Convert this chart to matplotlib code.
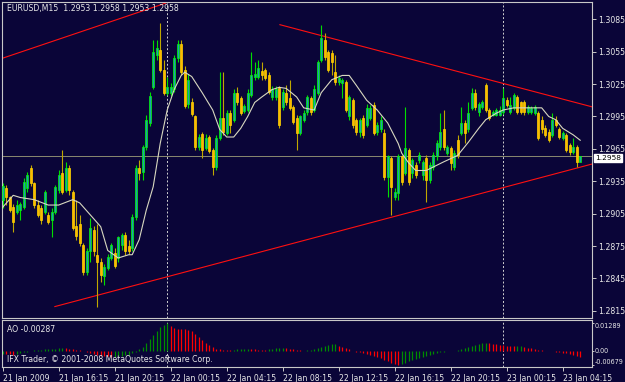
import matplotlib
matplotlib.use('Agg')
import matplotlib.pyplot as plt

# EURUSD M15 bars, 21 Jan 2009 12:15 onwards (one value per 15-minute bar)
opens = [1.2918, 1.2929, 1.2920, 1.2911, 1.2907, 1.2908, 1.2911, 1.2929, 1.2947, 1.2933,
         1.2913, 1.2910, 1.2907, 1.2904, 1.2899, 1.2907, 1.2927, 1.2943, 1.2927, 1.2947,
         1.2925, 1.2894, 1.2895, 1.2876, 1.2851, 1.2870, 1.2890, 1.2867, 1.2860, 1.2847,
         1.2855, 1.2864, 1.2869, 1.2864, 1.2876, 1.2885, 1.2875, 1.2873, 1.2902, 1.2947,
         1.2944, 1.2967, 1.2989, 1.3022, 1.3052, 1.3057, 1.3038, 1.3017, 1.3017, 1.3020,
         1.3049, 1.3062, 1.3038, 1.3007, 1.3008, 1.2995, 1.2967, 1.2979, 1.2966, 1.2976,
         1.2964, 1.2948, 1.2975, 1.2994, 1.2980, 1.2998, 1.2992, 1.3017, 1.3012, 1.3000,
         1.3001, 1.3015, 1.3032, 1.3032, 1.3037, 1.3038, 1.3033, 1.3013, 1.3013, 1.3021,
         1.3004, 1.3017, 1.3012, 1.3004, 1.2994, 1.2980, 1.2992, 1.2999, 1.3012, 1.3001,
         1.3017, 1.3047, 1.3066, 1.3055, 1.3054, 1.3036, 1.3027, 1.3026, 1.3027, 1.2995,
         1.3010, 1.2992, 1.2981, 1.2994, 1.2987, 1.2994, 1.3006, 1.2981, 1.2983, 1.2980,
         1.2939, 1.2957, 1.2920, 1.2924, 1.2958, 1.2943, 1.2964, 1.2943, 1.2950, 1.2955,
         1.2941, 1.2957, 1.2936, 1.2948, 1.2958, 1.2967, 1.2983, 1.2961, 1.2966, 1.2948,
         1.2973, 1.2980, 1.2989, 1.2983, 1.3003, 1.3017, 1.2999, 1.3004, 1.3024, 1.3001,
         1.2996, 1.2996, 1.2996, 1.2999, 1.3010, 1.2999, 1.3003, 1.3013, 1.3008, 1.3008,
         1.2999, 1.2999, 1.2998, 1.2998, 1.2992, 1.2984, 1.2981, 1.2978, 1.2992, 1.2983,
         1.2975, 1.2978, 1.2969, 1.2962, 1.2967, 1.2953]
highs = [1.2933, 1.2932, 1.2921, 1.2914, 1.2918, 1.2916, 1.2938, 1.2944, 1.2950, 1.2934,
         1.2918, 1.2913, 1.2927, 1.2907, 1.2910, 1.2932, 1.2945, 1.2964, 1.2953, 1.2950,
         1.2927, 1.2918, 1.2904, 1.2878, 1.2873, 1.2901, 1.2894, 1.2895, 1.2864, 1.2858,
         1.2868, 1.2878, 1.2873, 1.2884, 1.2887, 1.2888, 1.2881, 1.2905, 1.2950, 1.2955,
         1.2969, 1.2996, 1.3018, 1.3066, 1.3066, 1.3082, 1.3047, 1.3032, 1.3026, 1.3052,
         1.3066, 1.3066, 1.3042, 1.3034, 1.3012, 1.2996, 1.2979, 1.2981, 1.2979, 1.2978,
         1.2966, 1.2978, 1.3036, 1.3036, 1.3001, 1.3001, 1.3020, 1.3022, 1.3014, 1.3007,
         1.3020, 1.3055, 1.3045, 1.3047, 1.3045, 1.3040, 1.3036, 1.3023, 1.3023, 1.3023,
         1.3020, 1.3024, 1.3029, 1.3006, 1.2996, 1.2996, 1.3001, 1.3015, 1.3014, 1.3024,
         1.3047, 1.3080, 1.3072, 1.3057, 1.3057, 1.3052, 1.3033, 1.3031, 1.3029, 1.3015,
         1.3012, 1.2994, 1.2994, 1.2996, 1.3007, 1.3006, 1.3008, 1.2990, 1.2995, 1.2983,
         1.2959, 1.2958, 1.2929, 1.2960, 1.2959, 1.3004, 1.2966, 1.2957, 1.2953, 1.2962,
         1.2955, 1.2959, 1.2953, 1.2962, 1.2973, 1.2998, 1.3001, 1.2969, 1.2968, 1.2964,
         1.2978, 1.3004, 1.2992, 1.3008, 1.3021, 1.3020, 1.3008, 1.3010, 1.3026, 1.3003,
         1.3001, 1.3003, 1.3005, 1.3021, 1.3013, 1.3013, 1.3017, 1.3015, 1.3009, 1.3010,
         1.3006, 1.3005, 1.3006, 1.3000, 1.2995, 1.2987, 1.2983, 1.2998, 1.2995, 1.2985,
         1.2982, 1.2980, 1.2970, 1.2975, 1.2969, 1.2958]
lows = [1.2910, 1.2913, 1.2907, 1.2888, 1.2905, 1.2899, 1.2909, 1.2925, 1.2931, 1.2910,
        1.2902, 1.2895, 1.2905, 1.2895, 1.2883, 1.2905, 1.2924, 1.2923, 1.2925, 1.2922,
        1.2890, 1.2881, 1.2875, 1.2848, 1.2848, 1.2860, 1.2866, 1.2819, 1.2842, 1.2839,
        1.2853, 1.2862, 1.2855, 1.2860, 1.2871, 1.2867, 1.2868, 1.2870, 1.2899, 1.2936,
        1.2936, 1.2964, 1.2986, 1.3020, 1.3047, 1.3036, 1.3015, 1.3015, 1.3014, 1.3018,
        1.3045, 1.3033, 1.3003, 1.3003, 1.2995, 1.2964, 1.2964, 1.2957, 1.2964, 1.2961,
        1.2941, 1.2945, 1.2973, 1.2978, 1.2978, 1.2980, 1.2990, 1.3006, 1.2996, 1.2998,
        1.2999, 1.3013, 1.3029, 1.3030, 1.3029, 1.3029, 1.3016, 1.3010, 1.3010, 1.2984,
        1.3001, 1.3006, 1.3001, 1.2988, 1.2964, 1.2978, 1.2990, 1.2996, 1.2996, 1.2999,
        1.3015, 1.3045, 1.3047, 1.3036, 1.3033, 1.3024, 1.3024, 1.3012, 1.2999, 1.2992,
        1.2984, 1.2978, 1.2976, 1.2975, 1.2985, 1.2992, 1.2978, 1.2978, 1.2981, 1.2936,
        1.2920, 1.2904, 1.2918, 1.2918, 1.2932, 1.2941, 1.2932, 1.2938, 1.2938, 1.2952,
        1.2936, 1.2916, 1.2933, 1.2945, 1.2955, 1.2964, 1.2964, 1.2959, 1.2945, 1.2945,
        1.2957, 1.2978, 1.2970, 1.2981, 1.3001, 1.3001, 1.2995, 1.3002, 1.2999, 1.2992,
        1.2995, 1.2995, 1.2995, 1.2997, 1.3004, 1.2997, 1.3001, 1.2997, 1.2997, 1.2996,
        1.2997, 1.2997, 1.2996, 1.2973, 1.2980, 1.2976, 1.2971, 1.2976, 1.2985, 1.2974,
        1.2973, 1.2962, 1.2959, 1.2960, 1.2948, 1.2953]
closes = [1.2931, 1.2920, 1.2908, 1.2897, 1.2913, 1.2914, 1.2934, 1.2941, 1.2933, 1.2913,
          1.2904, 1.2899, 1.2925, 1.2897, 1.2907, 1.2930, 1.2941, 1.2925, 1.2947, 1.2927,
          1.2892, 1.2884, 1.2878, 1.2851, 1.2870, 1.2892, 1.2870, 1.2860, 1.2848, 1.2856,
          1.2865, 1.2876, 1.2857, 1.2883, 1.2885, 1.2870, 1.2870, 1.2902, 1.2947, 1.2943,
          1.2967, 1.2992, 1.3014, 1.3055, 1.3058, 1.3038, 1.3017, 1.3022, 1.3022, 1.3049,
          1.3062, 1.3036, 1.3005, 1.3029, 1.2997, 1.2967, 1.2976, 1.2964, 1.2975, 1.2963,
          1.2948, 1.2975, 1.2994, 1.2981, 1.2998, 1.2987, 1.3017, 1.3008, 1.2998, 1.3005,
          1.3017, 1.3033, 1.3034, 1.3040, 1.3033, 1.3031, 1.3018, 1.3020, 1.3020, 1.2987,
          1.3018, 1.3008, 1.3003, 1.2990, 1.2980, 1.2995, 1.2998, 1.3013, 1.2999, 1.3020,
          1.3045, 1.3068, 1.3050, 1.3038, 1.3045, 1.3027, 1.3031, 1.3029, 1.3001, 1.3013,
          1.2987, 1.2981, 1.2992, 1.2978, 1.3003, 1.3003, 1.2980, 1.2987, 1.2992, 1.2939,
          1.2958, 1.2930, 1.2925, 1.2958, 1.2934, 1.2966, 1.2934, 1.2955, 1.2941, 1.2959,
          1.2953, 1.2936, 1.2950, 1.2959, 1.2970, 1.2981, 1.2967, 1.2967, 1.2952, 1.2961,
          1.2959, 1.2989, 1.2980, 1.2998, 1.3017, 1.3004, 1.3007, 1.3008, 1.3001, 1.2994,
          1.2999, 1.3001, 1.3001, 1.3012, 1.3006, 1.3006, 1.3015, 1.2999, 1.2999, 1.2999,
          1.3004, 1.3003, 1.3004, 1.2975, 1.2983, 1.2978, 1.2973, 1.2992, 1.2987, 1.2976,
          1.2980, 1.2964, 1.2962, 1.2967, 1.2953, 1.2958]

# moving average read at sample bars
ma_bar = [0, 3, 5, 9, 13, 16, 20, 22, 25, 28, 30, 33, 36, 37, 39, 41, 43, 45, 47, 49,
          51, 52, 54, 57, 60, 62, 64, 66, 68, 70, 72, 74, 77, 79, 81, 84, 86, 89, 91, 94,
          97, 99, 101, 104, 107, 110, 113, 114, 116, 118, 121, 126, 130, 133, 136, 138, 141, 143, 146, 149,
          152, 154, 156, 158, 160, 163, 165]
ma_val = [1.2911, 1.2922, 1.2920, 1.2918, 1.2913, 1.2913, 1.2918, 1.2915, 1.2904, 1.2893,
          1.2871, 1.2864, 1.2867, 1.2867, 1.2881, 1.2908, 1.2930, 1.2970, 1.3001, 1.3020,
          1.3033, 1.3036, 1.3032, 1.3017, 1.3001, 1.2983, 1.2976, 1.2976, 1.2984, 1.2995,
          1.3008, 1.3013, 1.3020, 1.3022, 1.3021, 1.3013, 1.3003, 1.3001, 1.3017, 1.3029,
          1.3033, 1.3033, 1.3024, 1.3010, 1.3001, 1.2989, 1.2970, 1.2961, 1.2952, 1.2945,
          1.2945, 1.2953, 1.2959, 1.2971, 1.2984, 1.2992, 1.2998, 1.3001, 1.3003, 1.3003,
          1.3003, 1.3003, 1.2995, 1.2992, 1.2984, 1.2978, 1.2973]

# Awesome Oscillator, one value per bar
ao = [-0.0015, -0.0016, -0.0018, -0.0020, -0.0016, -0.0012, -0.0008, -0.0005, -0.0002, 0.0001,
      0.0003, 0.0004, 0.0006, 0.0007, 0.0008, 0.0009, 0.0010, 0.0011, 0.0010, 0.0008,
      0.0006, 0.0004, 0.0002, 0.0000, -0.0005, -0.0010, -0.0015, -0.0020, -0.0024, -0.0026,
      -0.0028, -0.0030, -0.0029, -0.0027, -0.0025, -0.0022, -0.0019, -0.0014, -0.0008, 0.0005,
      0.0018, 0.0035, 0.0055, 0.0075, 0.0095, 0.0110, 0.0122, 0.01289, 0.0115, 0.0108,
      0.0105, 0.0104, 0.0103, 0.0100, 0.0092, 0.0078, 0.0065, 0.0050, 0.0035, 0.0025,
      0.0015, 0.0008, 0.0005, 0.0004, 0.0003, 0.0002, 0.0003, 0.0005, 0.0006, 0.0007,
      0.0008, 0.0006, 0.0005, 0.0004, 0.0003, 0.0002, 0.0005, 0.0008, 0.0010, 0.0012,
      0.0014, 0.0010, 0.0008, 0.0005, 0.0002, 0.0001, 0.0000, 0.0002, 0.0003, 0.0005,
      0.0010, 0.0016, 0.0022, 0.0026, 0.0029, 0.0030, 0.0024, 0.0018, 0.0012, 0.0006,
      -0.0003, -0.0006, -0.0009, -0.0012, -0.0015, -0.0020, -0.0025, -0.0030, -0.0036, -0.0043,
      -0.0050, -0.0058, -0.0064, -0.00679, -0.0063, -0.0058, -0.0052, -0.0046, -0.0040, -0.0034,
      -0.0029, -0.0024, -0.0020, -0.0016, -0.0012, -0.0009, -0.0006, -0.0003, -0.0001, 0.0000,
      0.0001, 0.0005, 0.0010, 0.0015, 0.0020, 0.0025, 0.0030, 0.0034, 0.0037, 0.0035,
      0.0033, 0.0030, 0.0028, 0.0026, 0.0024, 0.0022, 0.0020, 0.0021, 0.0022, 0.0018,
      0.0014, 0.0010, 0.0007, 0.0004, 0.0002, 0.0000, -0.0002, -0.0004, -0.0006, -0.0008,
      -0.0010, -0.0013, -0.0016, -0.0020, -0.0024, -0.00287]

# trend lines: (bar, price) anchors
trend_a = [(0, 1.3049), (46.6, 1.3100)]
trend_b = [(79.2, 1.3080), (168.3, 1.3004)]
trend_c = [(14.9, 1.2819), (168.4, 1.2951)]
day_breaks = [47, 143]
bid = 1.2958

price_ticks = [1.3085, 1.3055, 1.3025, 1.2995, 1.2965, 1.2935, 1.2905, 1.2875, 1.2845, 1.2815]
ao_ticks = [0.01289, 0.0, -0.00679]
ao_labels = ['0.01289', '0.00', '-0.00679']
time_ticks = [0, 16, 32, 48, 64, 80, 96, 112, 128, 144, 160]
time_labels = ['21 Jan 2009', '21 Jan 16:15', '21 Jan 20:15', '22 Jan 00:15', '22 Jan 04:15',
               '22 Jan 08:15', '22 Jan 12:15', '22 Jan 16:15', '22 Jan 20:15', '23 Jan 00:15',
               '23 Jan 04:15']

BG = '#0a0538'
FRAME = '#c8c8c8'
TXT = '#e8e8e8'
W, H = 625, 382
FS = 5.6

def rect(x0, y0, x1, y1):
    return [x0 / W, 1 - y1 / H, (x1 - x0) / W, (y1 - y0) / H]

fig = plt.figure(figsize=(W / 100, H / 100), dpi=100, facecolor=BG)
ax = fig.add_axes(rect(2, 2, 592, 317.7))
ax2 = fig.add_axes(rect(2, 319.7, 592, 366.7))

for a in (ax, ax2):
    a.set_facecolor(BG)
    for s in a.spines.values():
        s.set_color(FRAME)
        s.set_linewidth(0.8)
    a.set_xlim(-0.2, 168.37)

# candles
n = len(closes)
for i in range(n):
    o, h, l, c = opens[i], highs[i], lows[i], closes[i]
    if c >= o:
        ax.vlines(i, l, h, color='#00e000', lw=0.8, zorder=3)
        ax.bar(i, max(c - o, 0.00003), bottom=o, width=0.62, color='#1ea0b0',
               edgecolor='#00ff00', linewidth=0.5, zorder=4)
    else:
        ax.vlines(i, l, h, color='#c0a800', lw=0.8, zorder=3)
        ax.bar(i, o - c, bottom=c, width=0.62, color='#ffb800',
               edgecolor='#ffd800', linewidth=0.5, zorder=4)

ax.plot(ma_bar, ma_val, color='#d8d8c0', lw=0.8, zorder=5)

for t in (trend_a, trend_b, trend_c):
    (x0, y0), (x1, y1) = t
    ax.plot([x0, x1], [y0, y1], color='#ff1010', lw=0.8, zorder=2)

ax.axhline(bid, color='#8a8a70', lw=0.7, zorder=1)
for d in day_breaks:
    for a in (ax, ax2):
        a.axvline(d, color='#d0d0d0', lw=0.7, ls=(0, (2, 2)), zorder=1)

ax.set_ylim(1.28087, 1.31010)
ax.set_xticks([])
ax.yaxis.tick_right()
ax.set_yticks(price_ticks)
ax.set_yticklabels(['%.4f' % v for v in price_ticks])
ax.tick_params(axis='y', colors=FRAME, labelcolor=TXT, labelsize=FS, length=3,
               width=0.7, pad=1.5)

# AO histogram
prev = None
for i, v in enumerate(ao):
    col = '#008c00' if (prev is None or v > prev) else '#ff0000'
    ax2.vlines(i, 0, v, color=col, lw=0.9)
    prev = v
ax2.set_ylim(-0.0077, 0.0147)
ax2.yaxis.tick_right()
ax2.set_yticks(ao_ticks)
ax2.set_yticklabels(ao_labels)
ax2.tick_params(axis='y', colors=FRAME, labelcolor=TXT, labelsize=4.7, length=1.5,
                width=0.7, pad=0.5)
tl = ax2.get_yticklabels()
tl[0].set_va('top')
tl[2].set_va('bottom')
ax2.set_xticks(time_ticks)
ax2.set_xticklabels(time_labels, ha='left')
ax2.tick_params(axis='x', colors=FRAME, labelcolor=TXT, labelsize=FS, length=3,
                width=0.7, pad=2)

fig.text(7 / W, 1 - 9 / H, 'EURUSD,M15  1.2953 1.2958 1.2953 1.2958', color=TXT,
         fontsize=FS, va='center')
fig.text(7 / W, 1 - 329 / H, 'AO -0.00287', color=TXT, fontsize=FS, va='center')
fig.text(7 / W, 1 - 359 / H, 'IFX Trader, \u00a9 2001-2008 MetaQuotes Software Corp.',
         color=TXT, fontsize=FS, va='center')
fig.text(595 / W, 1 - 158 / H, '1.2958', color='black', fontsize=5.3, va='center',
         bbox=dict(boxstyle='square,pad=0.08', fc='white', ec='white'))

fig.savefig('out.png', dpi=100, facecolor=BG)
